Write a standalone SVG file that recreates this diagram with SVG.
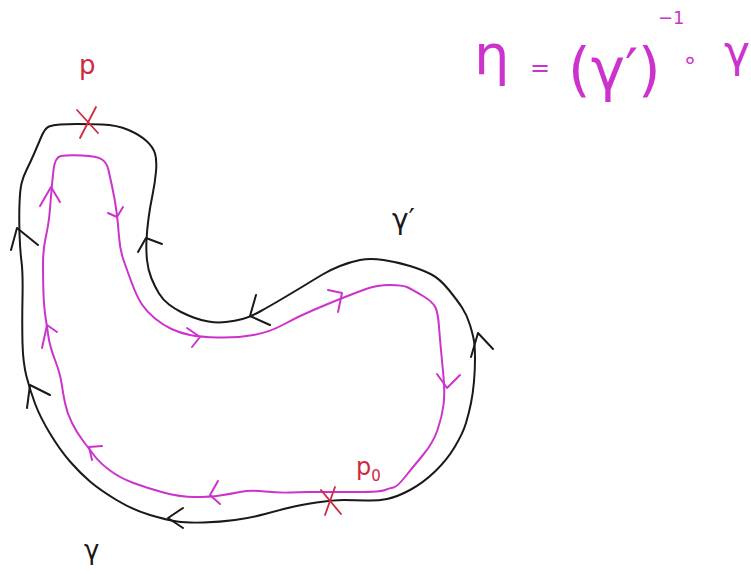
<svg xmlns="http://www.w3.org/2000/svg" width="751" height="574" viewBox="0 0 751 574">
<style>
.bk{fill:none;stroke:#1c1718;stroke-width:2;stroke-linejoin:round;stroke-linecap:round}
.mg{fill:none;stroke:#cc33cc;stroke-width:2;stroke-linejoin:round;stroke-linecap:round}
.rd{fill:none;stroke:#d0283c;stroke-width:1.8;stroke-linecap:round}
.t{font-family:"DejaVu Sans","Liberation Sans",sans-serif}
.tm{fill:#cc33cc}
.tr{fill:#d0283c}
.tb{fill:#1c1718}
</style>
<rect width="751" height="574" fill="#ffffff"/>
<g id="connectors">
<path id="gamma-loop" class="bk" d="M77,124 Q87,124 102,124.5 Q117,125 128.5,130 Q140,135 146.5,141 Q153,147 155,153.5 Q157,160 156,171.5 Q155,183 152.5,195 Q150,207 148.5,218.5 Q147,230 146.5,240 Q146,250 147,260 Q148,270 151.5,278.5 Q155,287 159,293.5 Q163,300 169,304.5 Q175,309 181,312 Q187,315 193.5,317.5 Q200,320 208.5,321.5 Q217,323 226,322 Q235,321 242.5,319 Q250,317 260,311.5 Q270,306 283.5,298 Q297,290 306,284.5 Q315,279 322.5,274.5 Q330,270 340,266 Q350,262 360,260 Q370,258 383.5,260 Q397,262 410,266 Q423,270 431.5,274.5 Q440,279 448.5,289.5 Q457,300 462,307.5 Q467,315 470,325 Q473,335 474,341 Q475,347 475,358.5 Q475,370 474,381.5 Q473,393 471,403 Q469,413 466,423 Q463,433 455,446.5 Q447,460 435,471.5 Q423,483 410,490 Q397,497 387,499 Q377,501 366,500.5 Q355,500 344,500 Q333,500 316.5,502.5 Q300,505 290,507.5 Q280,510 265,514 Q250,518 235,520 Q220,522 203.5,522.5 Q187,523 177,521.5 Q167,520 150,515 Q133,510 116.5,500 Q100,490 90,481.5 Q80,473 70,461.5 Q60,450 50,433.5 Q40,417 35,403.5 Q30,390 26.5,376.5 Q23,363 22.5,343 Q22,323 22.5,298 Q23,273 21.5,261.5 Q20,250 19.5,233.5 Q19,217 19.5,203.5 Q20,190 21.5,183.5 Q23,177 26.5,170 Q30,163 33.5,155 Q37,147 41,137.5 Q45,128 49,126.5 Q53,125 60,124.5 Q67,124 77,124 Z"/>
<path id="eta-loop" class="mg" d="M333.5,492 Q330,492 323.5,492 Q317,492 308.5,492 Q300,492 290,492.5 Q280,493 265,491.5 Q250,490 240,492 Q230,494 220,495.5 Q210,497 195,497 Q180,497 163.5,492.5 Q147,488 133.5,483 Q120,478 110,470.5 Q100,463 95,456.5 Q90,450 83.5,441.5 Q77,433 72,423 Q67,413 65,403 Q63,393 61.5,383 Q60,373 55,360 Q50,347 48.5,337 Q47,327 45.5,317 Q44,307 43.5,293.5 Q43,280 43,265 Q43,250 45.5,238.5 Q48,227 49,218.5 Q50,210 51,196.5 Q52,183 53.5,170 Q55,157 61,156 Q67,155 82,155.5 Q97,156 102,159.5 Q107,163 108.5,170 Q110,177 112.5,188.5 Q115,200 116.5,211.5 Q118,223 119,236.5 Q120,250 123.5,260 Q127,270 132,283.5 Q137,297 142,304.5 Q147,312 155,318.5 Q163,325 171.5,329 Q180,333 190,335 Q200,337 218.5,337.5 Q237,338 253.5,335 Q270,332 283.5,324.5 Q297,317 313.5,310 Q330,303 342.5,298 Q355,293 366,289 Q377,285 390,285 Q403,285 408,287.5 Q413,290 423,296 Q433,302 435.5,307.5 Q438,313 439,326.5 Q440,340 441,350 Q442,360 443.5,376.5 Q445,393 443.5,405 Q442,417 437.5,430 Q433,443 423,455 Q413,467 405,477 Q397,487 393.5,487.5 Q390,488 385,490 Q380,492 358.5,492 Q337,492 333.5,492 Z"/>
<g id="black-arrows">
<polyline class="bk" points="11,250 17,228 38,245"/>
<polyline class="bk" points="27,408 30,385 50,395"/>
<polyline class="bk" points="183,508 168,518 183,528"/>
<polyline class="bk" points="138,252 146,238 162,244"/>
<polyline class="bk" points="256,295 250,316 270,325"/>
<polyline class="bk" points="471,357 478,333 493,349"/>
</g>
<g id="magenta-arrows">
<polyline class="mg" points="218,481 210,495 220,504"/>
<polyline class="mg" points="102,446 89,447 92,460"/>
<polyline class="mg" points="57,332 47,325 42,348"/>
<polyline class="mg" points="40,206 51,187 60,202"/>
<polyline class="mg" points="108,213 117,217 123,207"/>
<polyline class="mg" points="187,328 200,337 192,347"/>
<polyline class="mg" points="328,290 342,293 338,312"/>
<polyline class="mg" points="437,374 447,388 460,375"/>
</g>
</g>
<g id="point-p">
<line class="rd" x1="77" y1="110" x2="98" y2="133"/>
<line class="rd" x1="96" y1="107" x2="80" y2="138"/>
<text class="t tr" x="79" y="74" font-size="26">p</text>
</g>
<g id="point-p0">
<line class="rd" x1="321" y1="490" x2="341" y2="514"/>
<line class="rd" x1="335" y1="487" x2="325" y2="515"/>
<text class="t tr" x="356" y="475" font-size="24">p<tspan font-size="15" dy="6">0</tspan></text>
</g>
<g id="label-gamma-prime">
<text class="t tb" x="392" y="229" font-size="28">γ′</text>
</g>
<g id="label-gamma">
<text class="t tb" x="84" y="559" font-size="26">γ</text>
</g>
<g id="formula">
<text class="t tm" x="474" y="74" font-size="56">η</text>
<text class="t tm" x="530" y="76" font-size="24">=</text>
<text class="t tm" x="568" y="90" font-size="58">(γ′)</text>
<text class="t tm" x="658" y="24" font-size="18">−1</text>
<text class="t tm" x="690" y="68" font-size="24" text-anchor="middle">∘</text>
<text class="t tm" x="724" y="67" font-size="44">γ</text>
</g>
</svg>
